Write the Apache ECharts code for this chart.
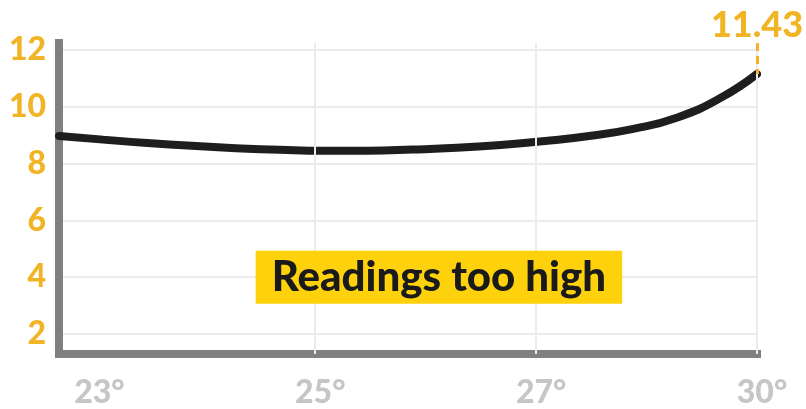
<!DOCTYPE html>
<html>
<head>
<meta charset="utf-8">
<script src="https://cdn.jsdelivr.net/npm/echarts@6/dist/echarts.min.js"></script>
<style>
html,body{margin:0;padding:0;background:#fff;}
#chart{width:806px;height:409px;}
</style>
</head>
<body>
<div id="chart"></div>
<script>
// Tick labels for the x axis (evenly spaced index positions 0..3)
var xTickLabels = ['23°', '25°', '27°', '30°'];
// Curve sample points: x position (index units), reading
var curveX = [-0.16, 0.04, 0.24, 0.44, 0.64, 0.84, 1.04, 1.24, 1.44, 1.64, 1.84, 2.04, 2.24, 2.44, 2.64, 2.84, 3.00];
var curveY = [8.97, 8.84, 8.72, 8.62, 8.54, 8.48, 8.445, 8.45, 8.49, 8.55, 8.65, 8.79, 8.97, 9.22, 9.62, 10.33, 11.15];
var endLabel = '11.43';
var annotationText = 'Readings too high';
var annotationAt = [1.56, 3.99];
var verticalGridAt = [1, 2, 3];

var FONT = 'Lato, "Open Sans", sans-serif';
var ORANGE = '#F1B424';
var chart = echarts.init(document.getElementById('chart'), null, {renderer: 'canvas'});

var points = curveX.map(function (x, i) { return [x, curveY[i]]; });
var lastIdx = points.length - 1;

var option = {
  animation: false,
  backgroundColor: '#ffffff',
  grid: {left: 59, right: 49, top: 43, bottom: 49.5, containLabel: false},
  xAxis: {
    type: 'value',
    min: -0.16,
    max: 3,
    splitNumber: 3,
    axisLine: {show: true, onZero: false, lineStyle: {color: '#808083', width: 8, cap: 'square'}},
    axisTick: {show: false},
    splitLine: {show: false},
    axisLabel: {
      showMinLabel: false,
      margin: 23,
      color: '#c5c6c8',
      fontFamily: FONT,
      fontWeight: 900,
      fontSize: 32,
      lineHeight: 32,
      padding: [0, 0, 0, 10],
      formatter: function (v) {
        var i = Math.round(v);
        return Math.abs(v - i) < 1e-6 && xTickLabels[i] ? xTickLabels[i] : '';
      }
    }
  },
  yAxis: {
    type: 'value',
    min: 1.291,
    max: 12.242,
    splitNumber: 5,
    axisLine: {show: true, onZero: false, lineStyle: {color: '#808083', width: 8, cap: 'square'}},
    axisTick: {show: false},
    splitLine: {show: true, showMinLine: false, showMaxLine: false, lineStyle: {color: '#ebebeb', width: 2}},
    axisLabel: {
      showMinLabel: false,
      showMaxLabel: false,
      margin: 13,
      color: ORANGE,
      fontFamily: FONT,
      fontWeight: 900,
      fontSize: 32
    }
  },
  series: [
    {
      // vertical grid lines, drawn beneath the curve
      type: 'line',
      z: 1,
      data: points,
      symbol: 'none',
      lineStyle: {opacity: 0},
      silent: true,
      markLine: {
        silent: true,
        symbol: 'none',
        label: {show: false},
        lineStyle: {color: '#ebebeb', width: 2, type: 'solid'},
        data: verticalGridAt.map(function (x) { return {xAxis: x}; })
      }
    },
    {
      type: 'line',
      z: 3,
      data: points,
      smooth: 0.5,
      symbol: 'none',
      lineStyle: {color: '#1e1e1e', width: 8, cap: 'round'},
      markLine: {
        silent: true,
        symbol: 'none',
        lineStyle: {color: ORANGE, width: 3, type: [8, 5]},
        label: {
          show: true,
          position: 'start',
          distance: 0,
          formatter: endLabel,
          color: ORANGE,
          fontFamily: FONT,
          fontWeight: 900,
          fontSize: 36
        },
        data: [[
          {coord: [curveX[lastIdx], 12.24]},
          {coord: [curveX[lastIdx], curveY[lastIdx]]}
        ]]
      },
      markPoint: {
        silent: true,
        symbol: 'rect',
        symbolSize: 0,
        label: {
          show: true,
          position: 'inside',
          formatter: annotationText,
          color: '#1a1a1a',
          fontFamily: FONT,
          fontWeight: 900,
          fontSize: 42,
          lineHeight: 42,
          backgroundColor: '#FDD10B',
          padding: [6, 16, 5, 16]
        },
        data: [{coord: annotationAt}]
      }
    }
  ]
};
chart.setOption(option);
</script>
</body>
</html>
